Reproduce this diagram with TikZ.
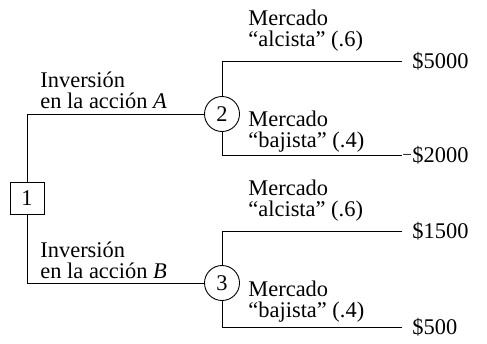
\documentclass[tikz,border=0pt]{standalone}
\usepackage{fontspec}
\setmainfont{Liberation Serif}
\usetikzlibrary{positioning}

\begin{document}
\begin{tikzpicture}[x=1bp, y=-1bp, line width=0.9bp,
    font=\fontsize{22.5}{21}\selectfont,
    decision/.style={draw, rectangle, minimum width=34bp, minimum height=32bp, inner sep=0pt},
    chance/.style={draw, circle, minimum size=35bp, inner sep=0pt},
    branchlbl/.style={align=left, anchor=south west, inner sep=0pt, text depth=0pt},
    payoff/.style={anchor=west, inner sep=0pt}]
    \useasboundingbox (0,0) rectangle (487,343);

    % Decision and chance nodes
    \node[decision] (n1) at (27,198) {1};
    \node[chance] (n2) at (222,114) {2};
    \node[chance] (n3) at (222,283) {3};

    % Ends of the branches
    \coordinate (e1) at (402,61);
    \coordinate (e2) at (402,155);
    \coordinate (e3) at (402,231);
    \coordinate (e4) at (402,327);

    % Branches
    \draw (n1.north) |- (n2.west);
    \draw (n1.south) |- (n3.west);
    \draw (n2.north) |- (e1);
    \draw (n2.south) |- (e2);
    \draw (n3.north) |- (e3);
    \draw (n3.south) |- (e4);

    % Labels on the branches
    \node[branchlbl] (la) at (40,109) {Inversión\\en la acción \textit{A}};
    \node[branchlbl] (lb) at (40,279) {Inversión\\en la acción \textit{B}};
    \node[branchlbl] (m1) at (248,47) {Mercado\\“alcista” (.6)};
    \node[branchlbl] (m2) at (248,148) {Mercado\\“bajista” (.4)};
    \node[branchlbl] (m3) at (248,217) {Mercado\\“alcista” (.6)};
    \node[branchlbl] (m4) at (248,318) {Mercado\\“bajista” (.4)};

    % Payoffs
    \node[payoff, right=10bp of e1] (p1) {\$5000};
    \node[payoff, right=10bp of e2] (p2) {\llap{\raisebox{2bp}{\fontsize{17}{17}\selectfont −}\kern0.5bp}\$2000};
    \node[payoff, right=10bp of e3] (p3) {\$1500};
    \node[payoff, right=10bp of e4] (p4) {\$500};
\end{tikzpicture}
\end{document}
